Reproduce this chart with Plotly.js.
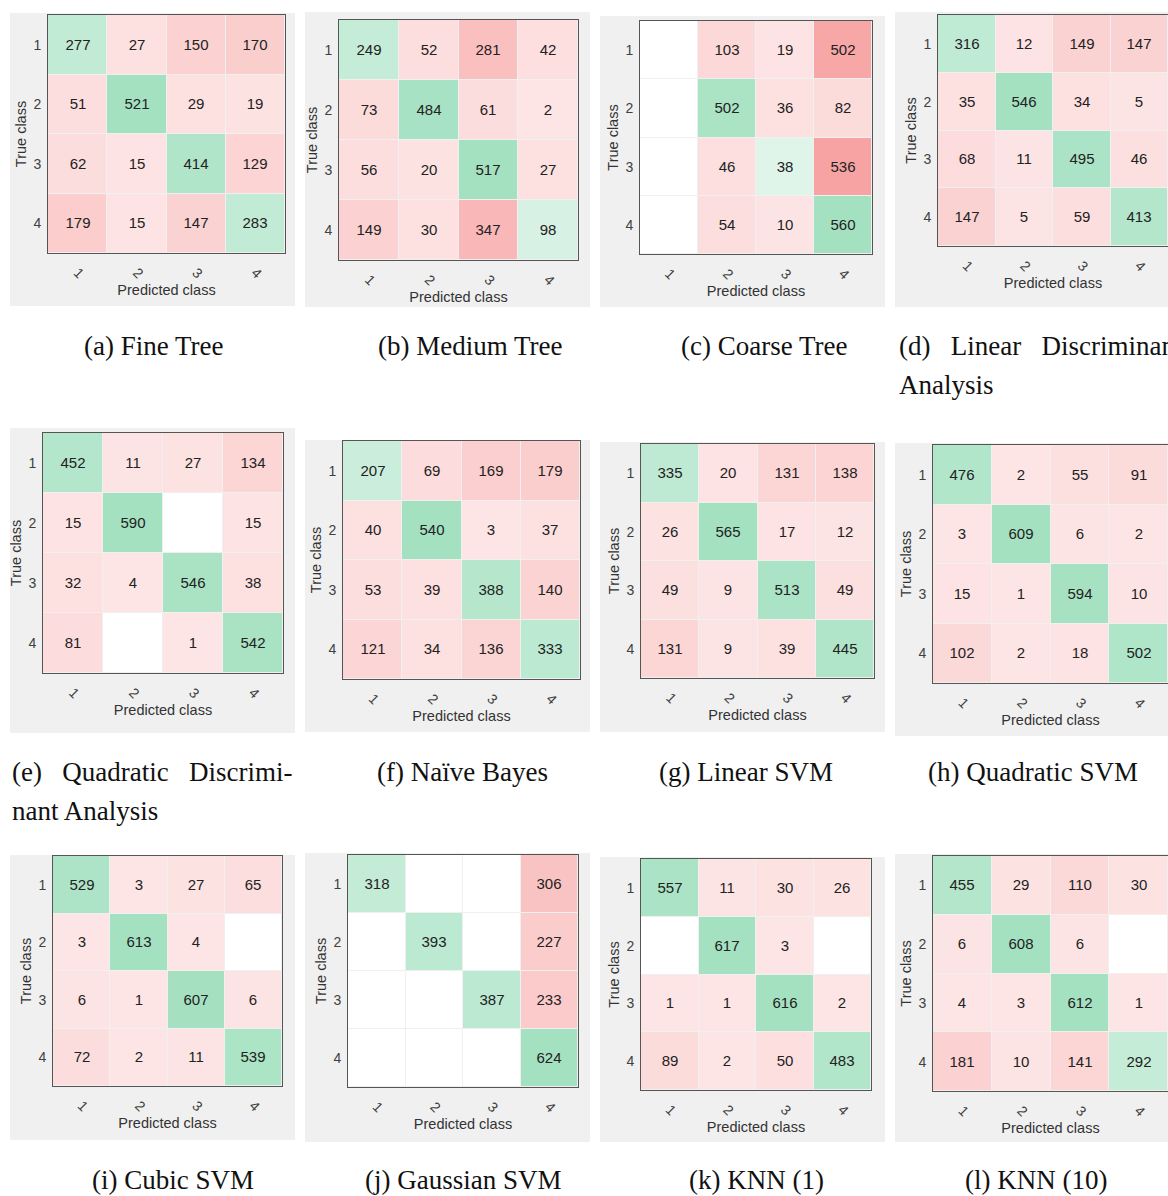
<!DOCTYPE html>
<html>
<head>
<meta charset="utf-8">
<script src="https://cdn.plot.ly/plotly-3.0.1.min.js"></script>
<style>
  html, body { margin: 0; padding: 0; background: #ffffff; }
  #chart { width: 1168px; height: 1196px; }
</style>
</head>
<body>
<div id="chart"></div>
<script>
// ---------------- DATA ----------------
const classLabels = ['1', '2', '3', '4'];
const xAxisTitle = 'Predicted class';
const yAxisTitle = 'True class';

const fineTree      = [[277, 27, 150, 170], [51, 521, 29, 19], [62, 15, 414, 129], [179, 15, 147, 283]];
const mediumTree    = [[249, 52, 281, 42], [73, 484, 61, 2], [56, 20, 517, 27], [149, 30, 347, 98]];
const coarseTree    = [[0, 103, 19, 502], [0, 502, 36, 82], [0, 46, 38, 536], [0, 54, 10, 560]];
const linearDisc    = [[316, 12, 149, 147], [35, 546, 34, 5], [68, 11, 495, 46], [147, 5, 59, 413]];
const quadraticDisc = [[452, 11, 27, 134], [15, 590, 0, 15], [32, 4, 546, 38], [81, 0, 1, 542]];
const naiveBayes    = [[207, 69, 169, 179], [40, 540, 3, 37], [53, 39, 388, 140], [121, 34, 136, 333]];
const linearSVM     = [[335, 20, 131, 138], [26, 565, 17, 12], [49, 9, 513, 49], [131, 9, 39, 445]];
const quadraticSVM  = [[476, 2, 55, 91], [3, 609, 6, 2], [15, 1, 594, 10], [102, 2, 18, 502]];
const cubicSVM      = [[529, 3, 27, 65], [3, 613, 4, 0], [6, 1, 607, 6], [72, 2, 11, 539]];
const gaussianSVM   = [[318, 0, 0, 306], [0, 393, 0, 227], [0, 0, 387, 233], [0, 0, 0, 624]];
const knn1          = [[557, 11, 30, 26], [0, 617, 3, 0], [1, 1, 616, 2], [89, 2, 50, 483]];
const knn10         = [[455, 29, 110, 30], [6, 608, 6, 0], [4, 3, 612, 1], [181, 10, 141, 292]];

const matrices = [fineTree, mediumTree, coarseTree, linearDisc,
                  quadraticDisc, naiveBayes, linearSVM, quadraticSVM,
                  cubicSVM, gaussianSVM, knn1, knn10];

const captionLines = [
  ['(a) Fine Tree'], ['(b) Medium Tree'], ['(c) Coarse Tree'],
  ['(d)&nbsp;&nbsp; Linear&nbsp;&nbsp; Discriminant', 'Analysis'],
  ['(e)&nbsp;&nbsp; Quadratic&nbsp;&nbsp; Discrimi-', 'nant Analysis'],
  ['(f) Naïve Bayes'], ['(g) Linear SVM'], ['(h) Quadratic SVM'],
  ['(i) Cubic SVM'], ['(j) Gaussian SVM'], ['(k) KNN (1)'], ['(l) KNN (10)']
];

// ---------------- LAYOUT GEOMETRY (px) ----------------
const W = 1168, H = 1196;
// matrix plot areas: [left, right, top, bottom]
const plotBoxes = [
  [48, 285, 15, 253], [339, 578, 20, 260], [640, 872, 21, 254], [938, 1168, 15, 246],
  [43, 283, 433, 673], [343, 580, 441, 679], [641, 874, 444, 678], [933, 1168, 445, 683],
  [53, 282, 856, 1086], [348, 578, 855, 1087], [641, 871, 859, 1090], [933, 1168, 856, 1091]
];
// gray panel backgrounds: [left, right, top, bottom]
const panelBoxes = [
  [10, 295, 13, 306], [305, 590, 12, 307], [600, 885, 16, 307], [895, 1168, 12, 307],
  [10, 295, 428, 733], [305, 590, 440, 732], [600, 885, 442, 732], [895, 1168, 443, 736],
  [10, 295, 855, 1140], [305, 590, 853, 1142], [600, 885, 857, 1142], [895, 1168, 854, 1142]
];
// caption anchor: [x, y, anchor]
const captionPos = [
  [153, 346, 'center'], [470, 346, 'center'], [764, 346, 'center'], [897, 346, 'left'],
  [10, 772, 'left'], [462, 772, 'center'], [746, 772, 'center'], [1033, 772, 'center'],
  [173, 1180, 'center'], [463, 1180, 'center'], [756, 1180, 'center'], [1036, 1180, 'center']
];
const lineGap = 39;

const colorscale = [
  [0, '#f7a0a0'],
  [0.4999, '#fde5e5'],
  [0.5, '#ffffff'],
  [0.5001, '#e3f6ec'],
  [1, '#a4e1c1']
];

const sans = 'Liberation Sans, Arial, Helvetica, sans-serif';
const serif = 'Liberation Serif, Times New Roman, serif';

const traces = [];
const layout = {
  width: W, height: H,
  margin: { l: 0, r: 0, t: 0, b: 0, pad: 0 },
  paper_bgcolor: '#ffffff',
  plot_bgcolor: '#a3a3a3',
  showlegend: false,
  shapes: [],
  annotations: []
};

matrices.forEach((m, i) => {
  const n = i + 1;
  const sfx = n === 1 ? '' : String(n);
  const maxVal = Math.max(...m.flat());
  const z = m.map((row, r) => row.map((v, c) => (r === c ? 1 : -1) * v / maxVal));
  const text = m.map(row => row.map(v => (v > 0 ? String(v) : '')));
  traces.push({
    type: 'heatmap',
    x: classLabels, y: classLabels, z: z,
    text: text, texttemplate: '%{text}',
    textfont: { family: sans, size: 15, color: '#222222' },
    colorscale: colorscale, zmin: -1, zmax: 1, showscale: false,
    xgap: 1, ygap: 1, hoverinfo: 'skip',
    xaxis: 'x' + sfx, yaxis: 'y' + sfx
  });
  const pb = plotBoxes[i];
  layout['xaxis' + sfx] = {
    domain: [pb[0] / W, pb[1] / W], anchor: 'y' + sfx,
    type: 'category', showgrid: false, zeroline: false,
    showline: true, mirror: true, linecolor: '#555555', linewidth: 1,
    ticks: '', tickangle: 45, ticklabelstandoff: 5,
    tickfont: { family: sans, size: 14, color: '#404040' },
    title: { text: xAxisTitle, font: { family: sans, size: 14.5, color: '#333333' }, standoff: 1 },
    fixedrange: true
  };
  layout['yaxis' + sfx] = {
    domain: [1 - pb[3] / H, 1 - pb[2] / H], anchor: 'x' + sfx,
    type: 'category', autorange: 'reversed', showgrid: false, zeroline: false,
    showline: true, mirror: true, linecolor: '#555555', linewidth: 1,
    ticks: '', ticklabelstandoff: 3,
    tickfont: { family: sans, size: 14, color: '#404040' },
    title: { text: yAxisTitle, font: { family: sans, size: 14.5, color: '#333333' }, standoff: 3 },
    fixedrange: true
  };
  const gb = panelBoxes[i];
  layout.shapes.push({
    type: 'rect', xref: 'paper', yref: 'paper', layer: 'below',
    x0: gb[0] / W, x1: gb[1] / W, y0: 1 - gb[3] / H, y1: 1 - gb[2] / H,
    fillcolor: '#f0f0f0', line: { width: 0 }
  });
  const cp = captionPos[i];
  captionLines[i].forEach((line, k) => {
    layout.annotations.push({
      xref: 'paper', yref: 'paper',
      x: cp[0] / W, y: 1 - (cp[1] + k * lineGap) / H,
      xanchor: cp[2], yanchor: 'middle', showarrow: false,
      text: line, font: { family: serif, size: 27, color: '#111111' }
    });
  });
});

Plotly.newPlot('chart', traces, layout, { staticPlot: true, displayModeBar: false });
</script>
</body>
</html>
